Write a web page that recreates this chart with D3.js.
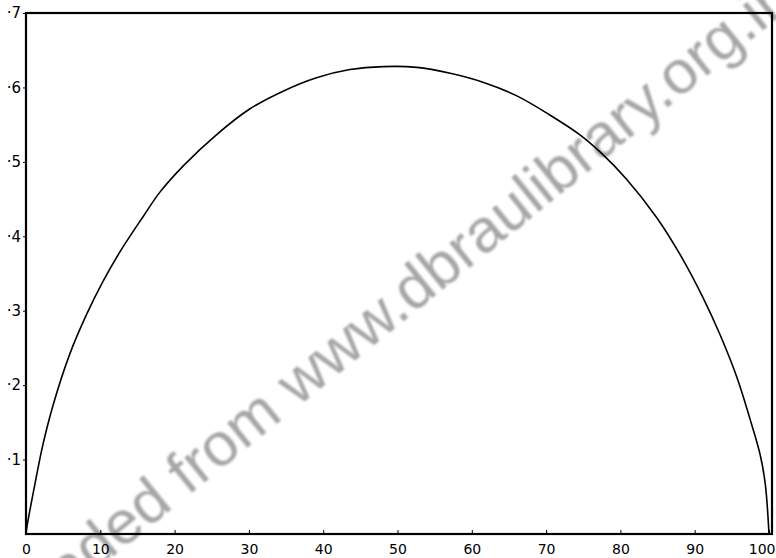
<!DOCTYPE html>
<html lang="en">
<head>
    <meta charset="UTF-8">
    <title>Courbe</title>
    <script src="https://cdn.jsdelivr.net/npm/d3@7"></script>
    <style>
        body { margin: 0; background: #fff; }
    </style>
</head>
<body>
    <div id="container"></div>
    <script>

    // values
    const xs = [0, 0.1, 1.2, 2.3, 3.7, 5.9, 8.2, 10.4, 12.7, 15.8, 18.0, 21.2, 25.7, 30.1, 34.6, 39.1, 43.6, 48.1,
        52.6, 57.1, 61.5, 66.0, 70.5, 74.6, 77.3, 80.8, 84.9, 88.0, 91.1, 93.4, 95.7, 97.4, 98.8, 99.5, 100];
    const ys = [0, 0.008, 0.067, 0.121, 0.175, 0.242, 0.296, 0.340, 0.380, 0.427, 0.459, 0.495, 0.537, 0.571, 0.595, 0.613, 0.624, 0.628,
        0.627, 0.619, 0.607, 0.589, 0.563, 0.536, 0.513, 0.477, 0.425, 0.376, 0.318, 0.268, 0.210, 0.156, 0.107, 0.067, 0];
    const xTicks = [0, 10, 20, 30, 40, 50, 60, 70, 80, 90, 100];
    const yTicks = [0.1, 0.2, 0.3, 0.4, 0.5, 0.6, 0.7];
    const yTickLabels = ["·1", "·2", "·3", "·4", "·5", "·6", "·7"];

    const width = 776, height = 558;

    const x = d3.scaleLinear().domain([0, 100]).range([26, 769]);
    const y = d3.scaleLinear().domain([0, 0.7]).range([534, 13]);

    const svg = d3.select('#container').append("svg")
        .attr("width", width)
        .attr("height", height);

    // watermark (cut by the page edges, as on the scan)
    const defs = svg.append("defs");
    defs.append("filter").attr("id", "soft")
        .append("feGaussianBlur").attr("stdDeviation", 1.2);

    const wm = svg.append("text")
        .attr("font-family", "Liberation Sans, Arial, sans-serif")
        .attr("font-size", 62)
        .attr("fill", "#a6a6a6")
        .attr("filter", "url(#soft)")
        .text("Downloaded from www.dbraulibrary.org.in");
    // put the "d" of "ded" near the lower left corner
    const pre = wm.node().getSubStringLength(0, 7);
    const ang = -39, rad = ang * Math.PI / 180;
    const ax = 94 - pre * Math.cos(rad), ay = 572 - pre * Math.sin(rad);
    wm.attr("transform", `translate(${ax},${ay}) rotate(${ang})`);

    // frame
    svg.append("rect")
        .attr("x", 26).attr("y", 13)
        .attr("width", 746).attr("height", 521)
        .attr("fill", "none")
        .attr("stroke", "#000")
        .attr("stroke-width", 2.2);

    const xAxis = svg.append("g")
        .attr("transform", `translate(0,${y(0)})`)
        .call(d3.axisBottom(x).tickValues(xTicks).tickSize(-4).tickPadding(10).tickFormat(d3.format("d")));
    xAxis.select(".domain").remove();
    xAxis.selectAll("text")
        .attr("font-family", "DejaVu Sans, sans-serif")
        .attr("font-size", 14)
        .attr("fill", "#000")
        .filter(d => d === 100)
        .attr("text-anchor", "end")
        .attr("dx", 6);

    const yAxis = svg.append("g")
        .attr("transform", `translate(${x(0)},0)`)
        .call(d3.axisLeft(y).tickValues(yTicks).tickSize(3).tickPadding(2)
            .tickFormat((d, i) => yTickLabels[i]));
    yAxis.select(".domain").remove();
    yAxis.selectAll("text")
        .attr("font-family", "DejaVu Sans, sans-serif")
        .attr("font-size", 15)
        .attr("fill", "#000");

    const line = d3.line()
        .x((d, i) => x(xs[i]))
        .y(d => y(d))
        .curve(d3.curveCatmullRom.alpha(0.5));

    svg.append("path")
        .datum(ys)
        .attr("fill", "none")
        .attr("stroke", "#000")
        .attr("stroke-width", 1.6)
        .attr("d", line);

    </script>
</body>
</html>
